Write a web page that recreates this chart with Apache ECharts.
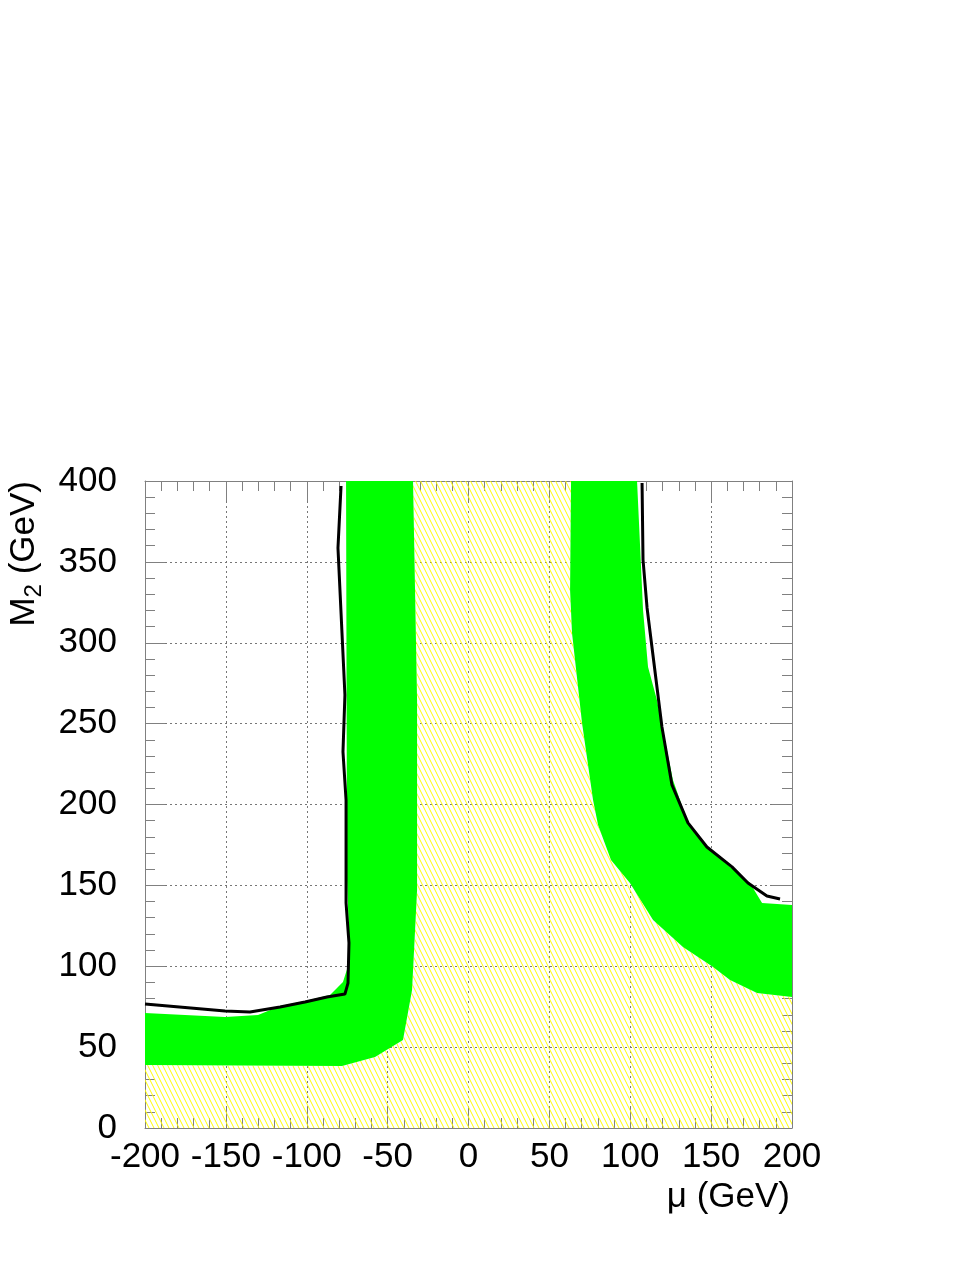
<!DOCTYPE html>
<html>
<head>
<meta charset="utf-8">
<script src="https://cdn.jsdelivr.net/npm/echarts@6/dist/echarts.min.js"></script>
<style>
  html, body { margin: 0; padding: 0; background: #fff; }
  #chart { width: 977px; height: 1264px; }
</style>
</head>
<body>
<div id="chart"></div>
<script>
// band edges (mu, M2 in GeV)
var leftOuterMu = [-75.7, -75.1, -73.3, -77.6, -85.6, -101.1, -116.5, -130.1, -150.5, -200];
var leftOuterM2 = [400, 153.3, 103.9, 90.3, 82.2, 78.5, 75.4, 69.9, 68.6, 71.1];
var leftInnerMu = [-34.3, -31.8, -31.8, -34.9, -40.5, -57.8, -78.2, -200];
var leftInnerM2 = [400, 264.6, 147.1, 85.3, 54.4, 43.9, 38.3, 38.9];
var rightInnerMu = [63.4, 62.8, 64.0, 70.2, 77.0, 80.1, 88.1, 99.8, 114.1, 132.6, 151.2, 161.7, 178.4, 200];
var rightInnerM2 = [400, 332.6, 306.0, 250.4, 202.8, 187.3, 165.7, 151.5, 128.6, 111.9, 99.5, 91.5, 83.5, 81.0];
var rightOuterMu = [104.2, 107.9, 111.0, 116.5, 126.4, 135.1, 147.4, 161.7, 174.0, 181.5, 200];
var rightOuterM2 = [400, 320.2, 285.0, 264.6, 215.1, 190.4, 173.7, 161.4, 151.5, 139.1, 137.9];

// black limit lines
var leftLimitMu = [-78.8, -80.7, -76.4, -77.6, -75.7, -75.7, -73.9, -74.5, -76.4, -87.5, -101.1, -116.5, -135.1, -150.5, -200];
var leftLimitM2 = [396.9, 358.6, 267.7, 232.5, 202.8, 139.1, 114.4, 89.6, 82.8, 81.0, 77.9, 74.8, 71.7, 72.3, 76.7];
var rightLimitMu = [107.3, 107.9, 110.4, 119.6, 125.8, 135.7, 147.4, 162.9, 172.8, 184.5, 192.6];
var rightLimitM2 = [398.8, 351.2, 321.5, 247.9, 212.1, 188.6, 173.7, 161.4, 151.5, 143.4, 141.6];

function pts(mu, m2) {
    return mu.map(function (v, i) { return [v, m2[i]]; });
}

var leftBand = pts(leftOuterMu, leftOuterM2).concat(pts(leftInnerMu, leftInnerM2).reverse());
var rightBand = pts(rightOuterMu, rightOuterM2).concat(pts(rightInnerMu, rightInnerM2).reverse());
var allowed = [[-200, 0], [200, 0]]
    .concat(pts(rightInnerMu, rightInnerM2).reverse())
    .concat(pts(leftInnerMu, leftInnerM2));

// yellow hatch tile
var tile = document.createElement('canvas');
tile.width = 5;
tile.height = 10;
var tctx = tile.getContext('2d');
tctx.strokeStyle = '#ffff00';
tctx.lineWidth = 1;
for (var k = -1; k <= 1; k++) {
    tctx.beginPath();
    tctx.moveTo(k * 5, 0);
    tctx.lineTo(k * 5 + 5, 10);
    tctx.stroke();
}

function polySeries(points, fill) {
    return {
        type: 'custom',
        coordinateSystem: 'cartesian2d',
        data: points,
        encode: { x: 0, y: 1 },
        silent: true,
        clip: true,
        renderItem: function (params, api) {
            if (params.dataIndex !== 0) return;
            return {
                type: 'polygon',
                shape: { points: points.map(function (p) { return api.coord(p); }) },
                style: { fill: fill, stroke: null }
            };
        }
    };
}

function limitSeries(points) {
    return {
        type: 'line',
        data: points,
        showSymbol: false,
        silent: true,
        lineStyle: { color: '#000', width: 3 },
        z: 5
    };
}

var axisGrey = '#808080';
var labelFont = { fontFamily: 'Liberation Sans', fontSize: 35, color: '#000' };

function frameAxis(pos, isX) {
    return {
        type: 'value',
        position: pos,
        min: isX ? -200 : 0,
        max: isX ? 200 : 400,
        interval: 50,
        axisLine: { show: true, onZero: false, lineStyle: { color: axisGrey, width: 1 } },
        axisTick: { show: true, inside: true, length: 20, lineStyle: { color: axisGrey } },
        minorTick: { show: true, splitNumber: 5, length: 10, lineStyle: { color: axisGrey } },
        axisLabel: { show: false },
        splitLine: { show: false }
    };
}

var xMain = frameAxis('bottom', true);
xMain.axisLabel = Object.assign({ show: true, margin: 12, showMinLabel: true, showMaxLabel: true }, labelFont);
xMain.splitLine = { show: true, lineStyle: { color: '#777', type: [2, 3], width: 1 } };

var yMain = frameAxis('left', false);
yMain.axisLabel = Object.assign({ show: true, margin: 28, showMinLabel: true, showMaxLabel: true }, labelFont);
yMain.splitLine = { show: true, lineStyle: { color: '#777', type: [2, 3], width: 1 } };

var chart = echarts.init(document.getElementById('chart'));
chart.setOption({
    backgroundColor: '#fff',
    animation: false,
    grid: { left: 145, top: 481, width: 647, height: 647 },
    xAxis: [xMain, frameAxis('top', true)],
    yAxis: [yMain, frameAxis('right', false)],
    series: [
        polySeries(allowed, { image: tile, repeat: 'repeat' }),
        polySeries(leftBand, '#00ff00'),
        polySeries(rightBand, '#00ff00'),
        limitSeries(pts(leftLimitMu, leftLimitM2)),
        limitSeries(pts(rightLimitMu, rightLimitM2))
    ],
    graphic: [
        {
            type: 'text',
            x: 790,
            y: 1197,
            style: {
                text: 'μ (GeV)',
                font: '35px "Liberation Sans"',
                fill: '#000',
                align: 'right',
                verticalAlign: 'middle'
            }
        },
        {
            type: 'text',
            x: 24,
            y: 481,
            rotation: Math.PI / 2,
            style: {
                text: '{a|M}{s|2}{a| (GeV)}',
                align: 'right',
                verticalAlign: 'middle',
                fill: '#000',
                rich: {
                    a: { fontFamily: 'Liberation Sans', fontSize: 35, lineHeight: 40 },
                    s: { fontFamily: 'Liberation Sans', fontSize: 24, lineHeight: 24, padding: [20, 0, 0, 0] }
                }
            }
        }
    ]
});
</script>
</body>
</html>
